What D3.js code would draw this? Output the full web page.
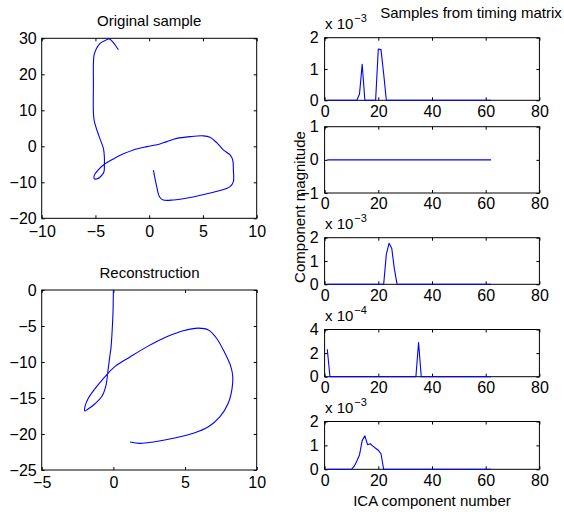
<!DOCTYPE html>
<meta charset="utf-8">
<script src="https://d3js.org/d3.v7.min.js"></script>
<style>
  body { margin: 0; background: #fff; }
  text { font-family: "Liberation Sans", Arial, Helvetica, sans-serif; fill: #000; }
</style>
<div id="my_dataviz"></div>
<script>

// ---- data ----
// original handwriting sample (pen trajectory)
var origX = [-2.87, -3.7, -4.1, -4.57, -4.95, -5.13, -5.19, -5.19, -5.19, -5.1, -4.82, -4.48, -4.26, -4.17, -4.17, -4.2, -4.4, -4.88, -5.13, -5.1, -4.82, -4.26, -3.33, -2.4, -1.47, -0.23, 1.0, 1.63, 2.56, 3.8, 5.04, 5.66, 6.28, 6.9, 7.52, 7.77, 7.83, 7.83, 7.52, 6.59, 5.35, 3.8, 2.25, 1.3, 0.95, 0.7, 0.39];
var origY = [26.8, 29.8, 29.4, 28.6, 26.9, 25.3, 23, 17.5, 9.2, 6.9, 4.1, 1.3, -0.6, -2.9, -5.6, -7.0, -8.0, -9.1, -8.9, -8.0, -6.8, -5.2, -3.5, -2.1, -1.0, -0.1, 0.65, 1.3, 2.2, 2.7, 2.9, 2.5, 1.0, -1.0, -2.4, -3.8, -6.6, -9.8, -11.2, -12.3, -13.2, -14.2, -14.9, -14.9, -14.0, -11.2, -6.6];

// reconstruction
var reconX = [0, -0.02, -0.07, -0.16, -0.28, -0.4, -0.51, -0.81, -1.28, -1.81, -2.0, -1.98, -1.74, -1.28, -0.7, 0.12, 1.16, 2.33, 3.72, 4.88, 5.93, 6.63, 7.2, 7.79, 8.19, 8.33, 8.28, 8.02, 7.44, 6.63, 5.58, 4.19, 2.79, 1.86, 1.16];
var reconY = [0, -2.8, -5.1, -7.9, -9.7, -11.6, -13.2, -14.8, -15.8, -16.6, -16.8, -16.2, -15.0, -13.7, -12.3, -10.6, -9.3, -7.9, -6.5, -5.65, -5.3, -5.55, -6.7, -8.8, -10.6, -12.0, -13.7, -15.7, -17.6, -19.0, -19.9, -20.6, -21.1, -21.3, -21.1];

// timing matrix samples, component 1..62 (values in units of 10^exp)
var comp1 = [0,0,0,0,0,0,0,0,0,0, 0,0,0.2,1.15,0,0,0,0,0,1.64, 1.62,0.85,0,0,0,0,0,0,0,0, 0,0,0,0,0,0,0,0,0,0, 0,0,0,0,0,0,0,0,0,0, 0,0,0,0,0,0,0,0,0,0, 0,0];
var comp2 = [0,0,0,0,0,0,0,0,0,0, 0,0,0,0,0,0,0,0,0,0, 0,0,0,0,0,0,0,0,0,0, 0,0,0,0,0,0,0,0,0,0, 0,0,0,0,0,0,0,0,0,0, 0,0,0,0,0,0,0,0,0,0, 0,0];
var comp3 = [0,0,0,0,0,0,0,0,0,0, 0,0,0,0,0,0,0,0,0,0, 0,0,1.3,1.76,1.55,0.65,0,0,0,0, 0,0,0,0,0,0,0,0,0,0, 0,0,0,0,0,0,0,0,0,0, 0,0,0,0,0,0,0,0,0,0, 0,0];
var comp4 = [2.33,0,0,0,0,0,0,0,0,0, 0,0,0,0,0,0,0,0,0,0, 0,0,0,0,0,0,0,0,0,0, 0,0,0,0,2.89,0,0,0,0,0, 0,0,0,0,0,0,0,0,0,0, 0,0,0,0,0,0,0,0,0,0, 0,0];
var comp5 = [0,0,0,0,0,0,0,0,0,0, 0.12,0.35,0.6,1.2,1.4,1.03,1.07,0.97,0.88,0.8, 0.65,0,0,0,0,0,0,0,0,0, 0,0,0,0,0,0,0,0,0,0, 0,0,0,0,0,0,0,0,0,0, 0,0,0,0,0,0,0,0,0,0, 0,0];

var compSeries = [comp1, comp2, comp3, comp4, comp5];
var compExp = [-3, null, -3, -4, -3];
var compYDomain = [[0, 2], [-1, 1], [0, 2], [0, 4], [0, 2]];
var compYTicks = [[0, 1, 2], [-1, 0, 1], [0, 1, 2], [0, 2, 4], [0, 1, 2]];
var compXTicks = [0, 20, 40, 60, 80];

var origXTicks = [-10, -5, 0, 5, 10], origYTicks = [-20, -10, 0, 10, 20, 30];
var reconXTicks = [-5, 0, 5, 10], reconYTicks = [-25, -20, -15, -10, -5, 0];

// ---- svg ----
var svg = d3.select("#my_dataviz")
  .append("svg")
    .attr("width", 564)
    .attr("height", 515);

var TICK = 3;
var fmt = d3.format("d");

// draws a MATLAB style box with inward ticks on all four sides
function drawAxes(x, y, xTicks, yTicks, xGap, yGap) {
  var g = svg.append("g");
  var x0 = x.range()[0], x1 = x.range()[1], y0 = y.range()[1], y1 = y.range()[0];

  g.append("g").attr("transform", "translate(0," + y1 + ")")
    .call(d3.axisBottom(x).tickValues(xTicks).tickFormat(fmt).tickSizeInner(-TICK).tickSizeOuter(0).tickPadding(xGap));
  g.append("g").attr("transform", "translate(0," + y0 + ")")
    .call(d3.axisTop(x).tickValues(xTicks).tickSizeInner(-TICK).tickSizeOuter(0).tickFormat(""));
  g.append("g").attr("transform", "translate(" + x0 + ",0)")
    .call(d3.axisLeft(y).tickValues(yTicks).tickFormat(fmt).tickSizeInner(-TICK).tickSizeOuter(0).tickPadding(yGap));
  g.append("g").attr("transform", "translate(" + x1 + ",0)")
    .call(d3.axisRight(y).tickValues(yTicks).tickSizeInner(-TICK).tickSizeOuter(0).tickFormat(""));

  g.selectAll(".domain").remove();
  g.selectAll(".tick line").attr("stroke", "#000");
  g.selectAll(".tick text").style("font-size", "16px").style("font-family", "Liberation Sans, Arial, sans-serif");

  g.append("rect")
    .attr("x", x0).attr("y", y0)
    .attr("width", x1 - x0).attr("height", y1 - y0)
    .attr("fill", "none").attr("stroke", "#000").attr("stroke-width", 1);
  return g;
}

function drawTrace(x, y, xs, ys, curve) {
  var pts = xs.map(function(d, i) { return [d, ys[i]]; });
  svg.append("path")
    .datum(pts)
    .attr("fill", "none")
    .attr("stroke", "#0000ff")
    .attr("stroke-width", 1.1)
    .attr("stroke-linejoin", "round")
    .attr("d", d3.line()
      .curve(curve)
      .x(function(d) { return x(d[0]); })
      .y(function(d) { return y(d[1]); }));
}

// ---- left: original sample ----
var ox = d3.scaleLinear().domain([-10, 10]).range([41.7, 256.7]);
var oy = d3.scaleLinear().domain([-20, 30]).range([218.3, 38.3]);
drawAxes(ox, oy, origXTicks, origYTicks, 7, 5);
drawTrace(ox, oy, origX, origY, d3.curveCatmullRom.alpha(0.5));
svg.append("text").attr("x", 149.2).attr("y", 26).attr("text-anchor", "middle")
  .style("font-size", "15px").text("Original sample");

// ---- left: reconstruction ----
var rx = d3.scaleLinear().domain([-5, 10]).range([41.7, 256.7]);
var ry = d3.scaleLinear().domain([-25, 0]).range([470, 290]);
drawAxes(rx, ry, reconXTicks, reconYTicks, 7, 5);
drawTrace(rx, ry, reconX, reconY, d3.curveCatmullRom.alpha(0.5));
svg.append("text").attr("x", 149.5).attr("y", 278).attr("text-anchor", "middle")
  .style("font-size", "15px").text("Reconstruction");

// ---- right: samples from timing matrix ----
var panelTop = [37.7, 126.7, 237.7, 329.5, 421.5];
var panelBottom = [100.3, 193, 284.3, 376.7, 469.3];
var cx = d3.scaleLinear().domain([0, 80]).range([324.6, 539.4]);

compSeries.forEach(function(series, k) {
  var cy = d3.scaleLinear().domain(compYDomain[k]).range([panelBottom[k], panelTop[k]]);
  drawAxes(cx, cy, compXTicks, compYTicks[k], 5, 6);
  drawTrace(cx, cy, series.map(function(d, i) { return i + 1; }), series, d3.curveLinear);

  if (compExp[k] !== null) {
    var t = svg.append("text")
      .attr("x", 325)
      .attr("y", panelTop[k] - 9)
      .style("font-size", "15px");
    t.append("tspan").text("x 10");
    t.append("tspan").attr("dx", 1).attr("dy", -7).style("font-size", "11px").text(fmt(compExp[k]));
  }
});

svg.append("text").attr("x", 471).attr("y", 18).attr("text-anchor", "middle")
  .style("font-size", "15px").text("Samples from timing matrix");

svg.append("text").attr("x", 432).attr("y", 506).attr("text-anchor", "middle")
  .style("font-size", "15px").text("ICA component number");

svg.append("text")
  .attr("transform", "translate(305,207) rotate(-90)")
  .attr("text-anchor", "middle")
  .style("font-size", "15px").text("Component magnitude");

</script>
